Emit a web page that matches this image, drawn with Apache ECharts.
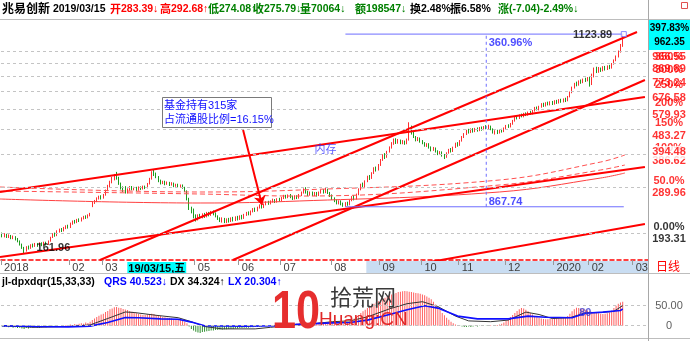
<!DOCTYPE html>
<html><head><meta charset="utf-8">
<script src="https://cdn.jsdelivr.net/npm/echarts@6/dist/echarts.min.js"></script>
<style>html,body{margin:0;padding:0;background:#fff}#c{width:690px;height:341px}</style>
</head><body><div id="c"></div>
<script>
// ---------- DATA ----------
// daily candles [open, close, low, high], one per trading-day slot (slot 0 = 2018-12-19)
const candles = [
[192,188,186,194],[188,191,186,193],[191,187,185,192],[187,189,185,191],[189,185,183,190],[185,187,183,189],[187,183,181,188],[183,180,178,185],[180,175,173,181],[175,170,168,176],
[170,165,161.96,171],[165,171,164,172],[171,169,167,173],[169,174,168,175],[174,172,170,176],[172,175,171,177],[175,173,171,177],[173,176,172,178],[176,174,172,178],[174,177,173,179],
[177,175,173,179],[175,180,174,181],[180,186,179,187],[186,191,185,193],[191,189,187,194],[189,196,188,198],[196,199,194,201],[199,197,195,202],[197,202,196,204],[202,205,200,207],
[205,203,201,208],[203,210,202,212],[210,214,208,216],[214,212,210,217],[212,217,211,219],[217,215,213,220],[215,220,214,222],[220,223,218,225],[223,221,219,226],[221,226,220,228],
[226,229,224,231],[244,252,243,255],[252,256,250,259],[256,262,254,265],[262,266,260,269],[266,263,260,270],[263,270,262,273],[270,281,269,284],[281,292,280,296],[292,303,290,307],
[303,312,300,318],[312,320,308,326],[320,315,310,332],[315,300,296,318],[300,288,284,302],[288,283,278,292],[283.39,275.79,274.08,292.68],[276,284,274,287],[284,290,281,293],[290,285,282,293],
[285,288,282,291],[288,283,280,291],[283,289,281,292],[289,286,283,292],[286,291,284,294],[291,288,285,294],[288,298,287,301],[298,312,297,315],[312,330,310,334],[330,326,320,338],
[326,318,314,330],[318,306,303,320],[306,300,297,310],[300,304,298,307],[304,298,295,307],[298,302,296,305],[302,296,293,304],[296,300,294,303],[300,293,290,302],[293,297,291,299],
[297,291,288,299],[291,295,289,297],[295,289,286,297],[289,280,278,291],[280,262,258,282],[262,240,237,264],[240,236,230,244],[236,224,220,240],[224,218,214,228],[218,226,216,228],
[226,222,219,229],[222,228,220,230],[228,224,221,231],[224,230,222,233],[230,227,224,233],[227,233,225,235],[233,229,226,236],[229,224,222,232],[224,220,217,226],[220,216,213,222],
[216,220,212,222],[220,214,211,221],[214,218,211,220],[218,215,212,221],[215,220,213,222],[220,217,214,223],[217,222,215,224],[222,219,216,225],[219,224,217,226],[224,221,218,227],
[221,227,219,229],[227,231,225,233],[231,228,226,234],[228,234,226,236],[234,239,232,241],[239,236,233,242],[236,242,234,244],[242,246,240,249],[246,243,240,249],[243,249,241,251],
[249,254,247,256],[254,251,248,257],[251,256,249,258],[256,259,253,262],[259,255,252,261],[255,261,253,263],[261,258,255,264],[258,264,256,266],[264,268,261,271],[268,265,262,271],
[265,270,263,272],[270,266,263,273],[266,262,259,269],[262,267,260,270],[267,264,261,270],[264,270,262,273],[270,276,268,279],[276,283,274,287],[283,278,274,290],[278,272,268,281],
[272,276,269,279],[276,271,268,279],[271,275,268,278],[275,270,267,278],[270,276,268,279],[276,281,274,284],[281,277,274,285],[277,283,275,288],[283,276,273,286],[276,270,266,278],
[270,262,259,272],[262,258,254,265],[258,252,249,260],[252,256,249,258],[256,250,247,258],[250,246,243.82,253],[246,252,243.82,254],[252,249,246,255],[249,258,247,260],[258,266,256,268],
[266,262,258,270],[262,272,260,274],[272,284,270,287],[284,296,282,299],[296,292,288,302],[292,305,290,308],[305,318,303,321],[318,314,309,323],[314,328,312,331],[328,342,326,346],
[342,338,333,348],[338,352,336,356],[352,368,350,372],[368,384,366,388],[384,378,372,392],[378,396,376,400],[396,412,394,416],[412,426,408,432],[426,440,422,446],[440,430,425,447],
[430,438,426,444],[438,428,424,442],[428,434,424,440],[434,426,422,438],[426,440,424,446],[440,488,438,515],[488,470,462,500],[470,452,448,474],[452,440,435,456],[440,448,436,452],
[448,436,430,450],[436,428,424,440],[428,420,415,432],[420,425,414,428],[425,412,408,428],[412,404,398,416],[404,410,400,414],[410,398,394,412],[398,390,385,402],[390,396,386,399],
[396,385,380,398],[385,380,372,389],[380,392,376,395],[392,404,390,407],[404,398,394,410],[398,412,396,415],[412,426,410,430],[426,420,415,432],[420,436,418,440],[436,452,434,456],
[452,464,448,468],[464,478,460,482],[478,470,466,486],[470,482,468,488],[482,474,470,489],[474,486,472,490],[486,478,474,492],[478,490,476,494],[490,482,478,496],[482,494,480,498],
[494,488,484,502],[488,496,484,504],[496,484,480,500],[484,470,466,488],[470,476,462,480],[476,468,464,482],[468,480,466,484],[480,474,470,486],[474,488,472,492],[488,498,484,503],
[498,494,490,506],[494,508,492,512],[508,522,504,526],[522,540,518,544],[540,534,528,548],[534,548,530,552],[548,542,538,556],[542,556,538,560],[556,548,544,562],[548,562,546,566],
[562,556,550,570],[556,570,552,574],[570,584,566,590],[584,576,572,592],[576,590,572,596],[590,604,586,610],[604,596,590,612],[596,610,592,615],[610,602,598,618],[602,614,598,620],
[614,606,600,622],[606,620,602,626],[620,612,606,628],[612,626,608,632],[626,618,612,634],[618,630,614,636],[630,622,616,640],[622,646,620,650],[646,670,642,676],[670,700,666,706],
[700,724,694,730],[724,716,708,738],[716,740,712,746],[740,732,724,752],[732,752,728,758],[752,744,736,764],[744,760,740,768],[760,720,706,770],[720,770,716,792],[770,820,766,836],
[820,806,796,842],[806,826,798,840],[826,812,804,836],[812,834,808,846],[834,822,814,848],[822,842,818,852],[842,832,824,856],[832,862,828,870],[862,890,858,898],[890,920,884,930],
[920,960,914,972],[960,1010,954,1030],[1010,1100,1004,1123.89]
];

// indicator jl-dpxdqr: QRS bars per slot
const qrs = [
-2,-3,-2,-4,-3,-5,-4,-6,-5,-7,
-8,-6,-7,-5,-6,-4,-5,-6,-4,-3,
-4,-3,-2,-3,-1,-2,0,1,-1,2,
1,3,2,4,3,5,6,5,8,7,
10,14,18,22,25,28,30,34,37,41,
43,46,47,45,44,42,40.523,39,37,35,
33,31,29,28,27,27,28,29,30,29,
27,25,24,22,21,20,19,18,17,16,
15,14,12,10,6,-2,-8,-12,-15,-17,
-18,-16,-15,-14,-13,-12,-12,-11,-11,-10,
-10,-9,-9,-8,-8,-8,-7,-7,-6,-6,
-5,-5,-5,-4,-4,-3,-3,-2,-2,-1,
-1,0,1,2,2,3,4,3,4,5,
4,5,6,5,6,7,7,8,8,7,
6,7,6,7,8,7,8,9,8,7,
6,5,5,4,4,5,6,8,11,14,
18,22,27,32,36,40,44,48,52,55,
58,61,64,67,70,73,76,78,80,82,
84,85,86,87,86,85,84,83,82,81,
80,78,76,73,70,66,60,53,46,39,
32,26,20,15,10,6,3,1,-1,-2,
-3,-3,-2,-3,-2,-1,-2,-1,-1,0,
-1,0,1,0,1,2,3,5,8,12,
17,22,27,32,37,41,44,43,40,36,
32,28,24,21,19,18,17,16,16,17,
18,19,20,21,20,19,20,24,30,36,
41,45,44,43,42,40,38,36,35,33,
32,31,30,29,30,31,33,38,44,50,
55,58,60
];
// DX (black) and LX (blue) lines, [slot, value]
const dxPoints = [[0,0],[15,-4],[30,-2],[40,2],[48,18],[56,34.324],[60,33],[70,26],[80,20],[86,10],[92,-2],[100,-8],[115,-8],[122,-4],[130,0],[140,4],[150,10],[158,12],[166,22],[176,42],[184,55],[191,60],[198,48],[206,24],[212,12],[222,10],[230,14],[238,34],[244,28],[250,18],[258,20],[265,32],[272,33],[278,36],[282,50]];
const lxPoints = [[0,0],[15,-2],[30,-3],[40,-1],[48,8],[56,20.304],[62,20],[72,17],[80,16],[86,9],[92,0],[110,-1],[125,0],[136,4],[150,7],[158,8],[166,14],[176,28],[184,40],[192,50],[198,44],[207,24],[216,17],[230,17],[239,24],[247,21],[259,20],[265,31],[273,34],[281,38],[282,42]];

// thin red average curves [slot, price]
const maUpper = [[-1,290.5],[90,277.9],[135,282.8],[226,309.0],[272,362.3],[283,385.5]];
const maMiddle = [[-1,280.3],[90,273.0],[135,268.1],[226,295.6],[272,337.6],[283,352.8]];
const maLower = [[-1,261.2],[90,252.1],[135,256.6],[226,277.9],[272,314.5],[283,328.7]];

// hand-drawn trend lines [slot, price] end points
const trendUpperSteep = [[44.5,152.2],[288.5,1145]];
const trendLowerSteep = [[104.9,152.2],[292.1,748.6]];
const trendLowFlat = [[-0.95,156.3],[292.1,346.7]];
const trendBottom = [[194.4,149.6],[292.1,209.3]];
const trendTopFlat = [[-0.95,277.9],[292.1,644.1]];

// measurement drawing
const measureTop = 1123.89, measureBottom = 243.82;
const measureFromSlot = 156, measureToSlot = 282.5, measureSlot = 220;
const measurePct = '360.96%', measureDiff = '867.74';
const lowSlot = 10, lowPrice = 161.96, peakSlot = 282;
const memoryLabelPoint = [147, 403];
const arrowFrom = [109.5, 481], arrowTo = [118.1, 247.7];

// price grid levels and right-hand labels
const levelPrices = [193.31,289.96,386.62,483.27,579.93,676.58,773.24,869.89,966.55];
const levelPcts = ['0.00%','50.0%','100%','150%','200%','250%','300%','350%','400%'];
const markPrice = 394.48;

// x-axis ticks
const totalSlots = 294;
const tickSlots = [0,31,46,88,108,127,150,172,191,208,229,251,267,287];
const tickLabels = ['2018','02','03','05','06','07','08','09','10','11','12','2020','02','03'];
const cursorSlot = 56, cursorText = '19/03/15,五';
const highlightFromSlot = 166;

// lower panel levels
const subLevels = [0, 50];
const subLabels = ['0', '50.00'];

// header fields [x, prefix, value, colour]
const header = [[2,'兆易创新',' 2019/03/15','#000'],[110,'开','283.39↓','#ff0000'],[160,'高','292.68↑','#ff0000'],[208,'低','274.08↑','#008000'],[253,'收','275.79↓','#008000'],[300,'量','70064↓','#008000'],[355,'额','198547↓','#008000'],[410,'换','2.48%','#000'],[450,'振','6.58%','#000'],[498,'涨','(-7.04)-2.49%↓','#008000']];
const subHeader = [[2,'jl-dpxdqr(15,33,33)','#000'],[104,'QRS 40.523↓','#0000ff'],[170,'DX 34.324↑','#000'],[228,'LX 20.304↑','#0000ff']];

// ---------- CHART ----------
const FONT = '"Liberation Sans","Noto Sans CJK SC",sans-serif';
const slots = Array.from({length: totalSlots}, (_, i) => String(i));
const labelMap = new Map(tickSlots.map((s, i) => [s, tickLabels[i]]));
labelMap.set(cursorSlot, '{cur|' + cursorText + '}');
const tickSet = new Set(tickSlots);

const chart = echarts.init(document.getElementById('c'), null, {width: 690, height: 341});

const lineSeries = (data, color, width, type, z, smooth) => ({
  type: 'line', xAxisIndex: 1, yAxisIndex: 0, data, symbol: 'none', silent: true,
  smooth: smooth || false, lineStyle: {color, width, type: type || 'solid'}, z: z || 3
});

const noSym = {color: 'transparent'};
const txt = (value, text, opts) => ({
  value, itemStyle: noSym,
  label: Object.assign({show: true, formatter: text, fontFamily: FONT, fontSize: 11}, opts)
});

const option = {
  animation: false,
  grid: [
    {left: 1, right: 42, top: 20, height: 240, outerBoundsMode: 'none'},
    {left: 1, right: 42, top: 290, height: 48, outerBoundsMode: 'none'},
    {left: 648, right: 0, top: 20, height: 240, outerBoundsMode: 'none'},
    {left: 648, right: 0, top: 290, height: 48, outerBoundsMode: 'none'}
  ],
  xAxis: [
    {type: 'category', gridIndex: 0, data: slots, boundaryGap: true,
     axisLine: {show: true, onZero: false, lineStyle: {color: '#ff0000', type: [4, 3], width: 1.5}},
     axisTick: {show: true, interval: (i) => tickSet.has(i), length: 5, lineStyle: {color: '#999'}},
     axisLabel: {show: true, interval: (i) => labelMap.has(i), formatter: (v, i) => labelMap.get(i) || '',
       align: 'left', margin: 2, fontSize: 11, color: '#404040', fontFamily: FONT, padding: [0, 0, 0, 2],
       rich: {cur: {backgroundColor: '#00ffff', color: '#000', fontWeight: 'bold', fontSize: 11, fontFamily: FONT, padding: [1, 1, 0, 1], lineHeight: 12}}},
     splitLine: {show: false}},
    {type: 'value', gridIndex: 0, min: -0.5, max: totalSlots - 0.5, show: false},
    {type: 'category', gridIndex: 1, data: slots, boundaryGap: true, show: false},
    {type: 'value', gridIndex: 1, min: -0.5, max: totalSlots - 0.5, show: false},
    {type: 'value', gridIndex: 2, min: 0, max: 1, show: false},
    {type: 'value', gridIndex: 3, min: 0, max: 1, show: false}
  ],
  yAxis: [
    {type: 'log', gridIndex: 0, logBase: 10, min: 152.23, max: 1273.2, show: false},
    {type: 'value', gridIndex: 1, min: -30.75, max: 89.25, show: false},
    {type: 'log', gridIndex: 2, logBase: 10, min: 152.23, max: 1273.2, show: false},
    {type: 'value', gridIndex: 3, min: -30.75, max: 89.25, show: false}
  ],
  series: [
    {type: 'line', xAxisIndex: 1, yAxisIndex: 0, data: [], silent: true, z: 1,
     markLine: {silent: true, symbol: 'none', label: {show: false},
       lineStyle: {color: '#c4c4c4', type: [3, 3], width: 1},
       data: levelPrices.map(v => ({yAxis: v}))}},
    {type: 'candlestick', xAxisIndex: 0, yAxisIndex: 0, data: candles, barWidth: 1, silent: true, z: 2,
     itemStyle: {color: '#ff6a6a', color0: '#1c9c1c', borderColor: '#ff3030', borderColor0: '#1c9c1c', borderWidth: 1}},
    lineSeries(maUpper, '#ff5050', 1, [5, 3], 3, 0.4),
    lineSeries(maMiddle, '#ff5050', 1, [5, 3], 3, 0.4),
    lineSeries(maLower, '#ff4040', 1, 'solid', 3, 0.4),
    lineSeries(trendUpperSteep, '#ff0000', 2, 'solid', 4),
    lineSeries(trendLowerSteep, '#ff0000', 2, 'solid', 4),
    lineSeries(trendLowFlat, '#ff0000', 2, 'solid', 4),
    lineSeries(trendBottom, '#ff0000', 2, 'solid', 4),
    lineSeries(trendTopFlat, '#ff0000', 2, 'solid', 4),
    lineSeries([[measureFromSlot, measureTop], [measureToSlot, measureTop]], '#6e6eff', 1, 'solid', 4),
    lineSeries([[measureFromSlot, measureBottom], [measureToSlot, measureBottom]], '#6e6eff', 1, 'solid', 4),
    lineSeries([[measureSlot, measureBottom], [measureSlot, measureTop]], '#6e6eff', 1, [3, 3], 4),
    {type: 'line', xAxisIndex: 1, yAxisIndex: 0, data: [], silent: true, z: 6,
     markLine: {silent: true, symbol: ['none', 'arrow'], symbolSize: 9, label: {show: false},
       lineStyle: {color: '#ff0000', width: 2, type: 'solid'},
       data: [[{coord: arrowFrom}, {coord: arrowTo}]]}},
    {type: 'scatter', xAxisIndex: 1, yAxisIndex: 0, symbolSize: 1, silent: true, z: 8,
     data: [
       txt([lowSlot, lowPrice], String(lowPrice), {position: [13, -10], align: 'left', verticalAlign: 'top', fontWeight: 'bold', color: '#000'}),
       txt([measureSlot, measureTop], measurePct, {position: [3, 4], align: 'left', verticalAlign: 'top', fontWeight: 'bold', color: '#2020ff'}),
       txt([measureSlot, measureBottom], measureDiff, {position: [3, -10], align: 'left', verticalAlign: 'top', fontWeight: 'bold', color: '#2020ff'}),
       txt([peakSlot, measureTop], String(measureTop), {position: [-10, 1], align: 'right', verticalAlign: 'middle', fontWeight: 'bold', color: '#000'}),
       txt(memoryLabelPoint, '内存', {position: 'inside', align: 'center', verticalAlign: 'middle', color: '#3030ff'})
     ]},
    {type: 'scatter', xAxisIndex: 1, yAxisIndex: 0, symbol: 'rect', symbolSize: 5, silent: true, z: 8,
     itemStyle: {color: '#fff', borderColor: '#6e6eff', borderWidth: 1},
     data: [[peakSlot + 0.5, measureTop]]},
    {type: 'scatter', xAxisIndex: 4, yAxisIndex: 2, symbolSize: 1, silent: true, z: 8,
     data: levelPrices.map((p, k) => txt([0.5, p], levelPcts[k] + '\n' + p.toFixed(2),
       {position: 'inside', align: 'center', verticalAlign: 'middle', lineHeight: 12.5, fontWeight: 'bold',
        color: k === 0 ? '#000' : '#ff0000'})).concat([
       txt([0.5, markPrice], String(markPrice), {position: 'inside', align: 'center', verticalAlign: 'middle',
         fontWeight: 'bold', color: '#ff0000', backgroundColor: '#fff', padding: [1, 3]})
     ])},
    {type: 'line', xAxisIndex: 3, yAxisIndex: 1, data: [], silent: true, z: 1,
     markLine: {silent: true, symbol: 'none', label: {show: false},
       lineStyle: {color: '#c4c4c4', type: [3, 3], width: 1},
       data: subLevels.map(v => ({yAxis: v}))}},
    {type: 'bar', xAxisIndex: 2, yAxisIndex: 1, data: qrs, barWidth: 1, silent: true, z: 2,
     itemStyle: {color: (p) => p.value >= 0 ? '#ff6060' : '#2e8e2e'}},
    {type: 'line', xAxisIndex: 3, yAxisIndex: 1, data: dxPoints, symbol: 'none', silent: true, z: 3,
     lineStyle: {color: '#333', width: 1}},
    {type: 'line', xAxisIndex: 3, yAxisIndex: 1, data: lxPoints, symbol: 'none', silent: true, z: 3,
     lineStyle: {color: '#1010ff', width: 1.6}},
    {type: 'scatter', xAxisIndex: 3, yAxisIndex: 1, symbolSize: 1, silent: true, z: 8,
     data: [txt([265, 31], '80', {position: 'inside', align: 'center', verticalAlign: 'middle', color: '#3a3ad0', fontWeight: 'bold'})]},
    {type: 'scatter', xAxisIndex: 5, yAxisIndex: 3, symbolSize: 1, silent: true, z: 8,
     data: subLevels.map((v, i) => txt([0.5, v], subLabels[i], {position: 'inside', align: 'center', verticalAlign: 'middle', color: '#333'}))}
  ]
};
chart.setOption(option);

// ---------- decorations ----------
const hlX = chart.convertToPixel({xAxisIndex: 1}, highlightFromSlot - 0.5);
const t = (x, y, text, fill, font, extra) => Object.assign({type: 'text', x, y, z: 50,
  style: {text, fill, font, verticalAlign: 'middle'}}, extra || {});
const g = [];
header.forEach(([x, pre, val, c], i) => g.push({type: 'text', x, y: 9.5, z: 50,
  style: {text: '{a|' + pre + '}{b|' + val + '}', fill: c, verticalAlign: 'middle',
    rich: {a: {font: 'bold ' + (i === 0 ? 12 : 11) + 'px ' + FONT, fill: c},
           b: {font: 'bold 10.5px ' + FONT, fill: c}}}}));
subHeader.forEach(([x, s, c]) => g.push(t(x, 282, s, c, 'bold 10.5px ' + FONT)));
g.push({type: 'rect', z: -1, shape: {x: hlX, y: 261, width: 648 - hlX, height: 12.5}, style: {fill: '#c9ddf2'}});
g.push({type: 'line', z: 40, shape: {x1: 0, y1: 19.5, x2: 690, y2: 19.5}, style: {stroke: '#bdbdbd', lineWidth: 1}});
g.push({type: 'line', z: 40, shape: {x1: 0, y1: 273.5, x2: 690, y2: 273.5}, style: {stroke: '#bdbdbd', lineWidth: 1}});
g.push({type: 'line', z: 40, shape: {x1: 0, y1: 338.5, x2: 690, y2: 338.5}, style: {stroke: '#bdbdbd', lineWidth: 1}});
g.push({type: 'line', z: 40, shape: {x1: 648.5, y1: 0, x2: 648.5, y2: 341}, style: {stroke: '#a8a8a8', lineWidth: 1}});
g.push({type: 'rect', z: 40, shape: {x: 681.5, y: 2.5, width: 6, height: 6}, style: {fill: 'none', stroke: '#e05050'}});
g.push({type: 'rect', z: 60, shape: {x: 649, y: 20, width: 41, height: 30}, style: {fill: '#00ffff'}});
g.push({type: 'text', x: 669.5, y: 28.5, z: 61, style: {text: '397.83%', fill: '#000', font: 'bold 10px ' + FONT, align: 'center', verticalAlign: 'middle'}});
g.push({type: 'text', x: 669.5, y: 42.5, z: 61, style: {text: '962.35', fill: '#000', font: 'bold 10px ' + FONT, align: 'center', verticalAlign: 'middle'}});
g.push({type: 'text', x: 668, y: 268, z: 50, style: {text: '日线', fill: '#ff0000', font: '12px ' + FONT, align: 'center', verticalAlign: 'middle'}});
g.push({type: 'rect', z: 60, shape: {x: 162.5, y: 97.5, width: 109, height: 30}, style: {fill: '#fff', stroke: '#7a7a7a', lineWidth: 1}});
g.push(t(164, 105.5, '基金持有315家', '#1010ff', '11px ' + FONT, {z: 61}));
g.push(t(164, 120, '占流通股比例=16.15%', '#1010ff', '11px ' + FONT, {z: 61}));
g.push({type: 'text', z: 70, x: 272, y: 313, scaleX: 0.8, style: {text: '10', fill: '#e62e2e', font: 'bold 54px ' + FONT, verticalAlign: 'middle'}});
g.push(t(330, 299, '拾荒网', '#3a3a3a', '22px ' + FONT, {z: 70}));
g.push(t(319, 320, 'Huang:CN', '#e02828', '19px ' + FONT, {z: 70}));
chart.setOption({graphic: g});
</script>
</body></html>
